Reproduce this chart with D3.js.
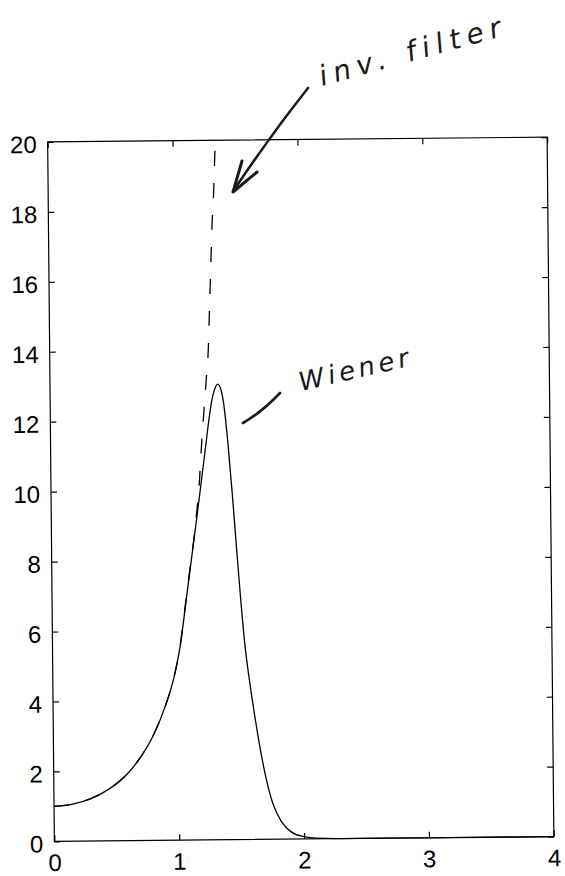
<!DOCTYPE html>
<html>
<head>
<meta charset="utf-8">
<script src="https://cdn.jsdelivr.net/npm/d3@7"></script>
<style>
  html, body { margin: 0; padding: 0; background: #fff; }
  svg { display: block; }
  .tick-label { font-family: "Liberation Sans", Arial, Helvetica, sans-serif; font-size: 24px; fill: #000; }
  .note { font-family: "DejaVu Sans", sans-serif; font-style: italic; fill: #1a1a1a; }
</style>
</head>
<body>
<script>
// Axis ticks
const xTicks = [0, 1, 2, 3, 4];
const yTicks = [0, 2, 4, 6, 8, 10, 12, 14, 16, 18, 20];

// Wiener filter gain (solid)
const wienerX = [0, 0.15, 0.3, 0.45, 0.6, 0.7, 0.8, 0.9, 0.97, 1.02, 1.07, 1.12, 1.18, 1.236, 1.294, 1.315, 1.343,
                 1.37, 1.39, 1.42, 1.45, 1.48, 1.51, 1.54, 1.58, 1.62, 1.66, 1.70, 1.75, 1.82, 1.9, 2.0, 2.1, 2.3, 3, 4];
const wienerY = [1.0, 1.06, 1.22, 1.5, 1.95, 2.4, 3.0, 3.85, 4.65, 5.5, 6.75, 8.05, 9.6, 11.1, 12.55, 12.85, 13.03,
                 12.85, 12.45, 11.35, 9.95, 8.4, 6.9, 5.6, 4.4, 3.4, 2.5, 1.75, 1.05, 0.5, 0.2, 0.07, 0.02, 0.0, 0.0, 0.0];

// Inverse filter gain (dashed), runs off the top of the axes
const inverseX = [0, 0.15, 0.3, 0.45, 0.6, 0.7, 0.8, 0.9, 0.97, 1.02, 1.07, 1.12, 1.14, 1.166, 1.19, 1.205,
                  1.227, 1.25, 1.27, 1.28, 1.29, 1.30, 1.31, 1.324, 1.34, 1.343];
const inverseY = [1.0, 1.06, 1.22, 1.5, 1.95, 2.4, 3.0, 3.85, 4.65, 5.5, 6.8, 8.1, 8.6, 9.4, 10.3, 11.1,
                  12.1, 13.1, 14.0, 14.9, 15.8, 16.7, 17.6, 18.4, 19.8, 20.0];

const W = 565, H = 876;
const plotLeft = 51, plotRight = 550.5, plotTop = 139.5, plotBottom = 839;

const svg = d3.select("body").append("svg").attr("width", W).attr("height", H);

const x = d3.scaleLinear().domain([0, 4]).range([plotLeft, plotRight]);
const y = d3.scaleLinear().domain([0, 20]).range([plotBottom, plotTop]);

// The whole plot sits slightly tilted on the page
const plot = svg.append("g")
  .attr("transform", `rotate(-0.55, ${(plotLeft + plotRight) / 2}, ${(plotTop + plotBottom) / 2})`);

// Box
plot.append("rect")
  .attr("x", plotLeft).attr("y", plotTop)
  .attr("width", plotRight - plotLeft).attr("height", plotBottom - plotTop)
  .attr("fill", "none").attr("stroke", "#000").attr("stroke-width", 1.2);

const tickLen = 6;
// Bottom and top axes (inward ticks)
const xb = plot.append("g").attr("transform", `translate(0,${plotBottom})`)
  .call(d3.axisBottom(x).tickValues(xTicks).tickSizeInner(-tickLen).tickSizeOuter(0).tickPadding(12.5).tickFormat(d3.format("d")));
const xt = plot.append("g").attr("transform", `translate(0,${plotTop})`)
  .call(d3.axisTop(x).tickValues(xTicks).tickSizeInner(-tickLen).tickSizeOuter(0).tickFormat(""));
// Left and right axes
const yl = plot.append("g").attr("transform", `translate(${plotLeft},0)`)
  .call(d3.axisLeft(y).tickValues(yTicks).tickSizeInner(-tickLen).tickSizeOuter(0).tickPadding(11).tickFormat(d3.format("d")));
const yr = plot.append("g").attr("transform", `translate(${plotRight},0)`)
  .call(d3.axisRight(y).tickValues(yTicks).tickSizeInner(-tickLen).tickSizeOuter(0).tickFormat(""));

[xb, xt, yl, yr].forEach(g => {
  g.select(".domain").remove();
  g.selectAll(".tick line").attr("stroke", "#000").attr("stroke-width", 1.2);
  g.selectAll("text").attr("class", "tick-label").attr("font-family", null).attr("font-size", null);
});
xb.selectAll("text").attr("dy", "0.71em");
yl.selectAll("text").attr("dy", "0.35em").attr("y", 2);

const line = d3.line().x(d => x(d[0])).y(d => y(d[1])).curve(d3.curveMonotoneX);

plot.append("path")
  .datum(inverseX.map((v, i) => [v, inverseY[i]]))
  .attr("d", line)
  .attr("fill", "none").attr("stroke", "#000").attr("stroke-width", 1.3)
  .attr("stroke-dasharray", "15,17");

plot.append("path")
  .datum(wienerX.map((v, i) => [v, wienerY[i]]))
  .attr("d", line)
  .attr("fill", "none").attr("stroke", "#000").attr("stroke-width", 1.3);

// Hand-written notes
const notes = svg.append("g");
notes.append("path")
  .attr("d", "M308,88 Q270,136 234,190")
  .attr("fill", "none").attr("stroke", "#1a1a1a").attr("stroke-width", 2.6).attr("stroke-linecap", "round");
notes.append("path")
  .attr("d", "M242,161 L233,192 L257,172")
  .attr("fill", "none").attr("stroke", "#1a1a1a").attr("stroke-width", 3).attr("stroke-linejoin", "round").attr("stroke-linecap", "round");
notes.append("text").attr("class", "note")
  .attr("transform", "translate(322,86) rotate(-15.5)")
  .attr("font-size", 28).attr("letter-spacing", 6.5)
  .text("inv. filter");

notes.append("path")
  .attr("d", "M243,423 Q262,412 280,393")
  .attr("fill", "none").attr("stroke", "#1a1a1a").attr("stroke-width", 2.6).attr("stroke-linecap", "round");
notes.append("text").attr("class", "note")
  .attr("transform", "translate(301,391) rotate(-13)")
  .attr("font-size", 26).attr("letter-spacing", 4)
  .text("Wiener");
</script>
</body>
</html>
